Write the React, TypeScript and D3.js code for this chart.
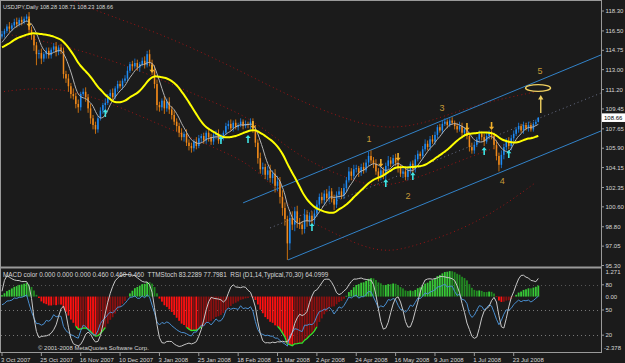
import React from "react";
import * as d3 from "d3";

const W = 625;
const H = 363;
const BG = "#1b1b1b";

// Closes before the first visible bar (Sep 2007), used only to warm up indicators
const preCloses = [116.2, 115.6, 114.9, 115.8, 116.3, 116.0, 115.4, 114.8, 115.6, 116.1,
  115.8, 115.2, 114.6, 113.9, 114.2, 113.6, 114.0, 114.5, 115.3, 115.8,
  116.1, 115.7, 115.3, 114.9, 115.2, 115.0, 114.6, 114.8, 115.2, 115.0, 115.6, 116.0];

// Daily closes, 3 Oct 2007 .. 6 Aug 2008
const closes = [
  116.2, 116.5, 116.9, 116.7, 117.0, 117.3, 117.1, 117.5, 117.3, 117.6,
  117.8, 116.6, 116.1, 115.2, 114.4, 114.5, 114.0, 114.4, 114.7, 114.3,
  114.8, 115.1, 114.6, 115.0, 114.7, 112.6, 112.2, 111.5, 110.8, 110.6,
  109.9, 109.6, 110.8, 111.0, 110.5, 109.5, 108.6, 108.0, 107.6, 108.6,
  109.3, 109.8, 110.0, 110.6, 110.9, 110.5, 111.3, 111.7, 111.5, 112.0,
  112.2, 112.9, 113.5, 113.3, 113.6, 113.2, 113.5, 113.8, 113.4, 114.4,
  113.6, 112.9, 111.7, 109.8, 109.6, 110.2, 109.5, 110.1, 109.4, 108.9,
  108.3, 107.9, 107.3, 106.9, 107.2, 106.4, 106.1, 105.9, 106.5, 106.1,
  106.8, 107.0, 106.6, 107.3, 106.9, 106.5, 107.1, 107.2, 106.6, 106.9,
  107.3, 107.9, 108.1, 107.7, 108.2, 107.8, 108.0, 108.3, 107.9, 108.1,
  108.0, 108.3, 107.6, 106.4, 105.0, 104.0, 104.2, 103.5, 103.9, 103.2,
  103.6, 102.5, 102.9, 101.5, 100.5, 99.5, 97.3, 99.6, 99.0, 100.2,
  99.2, 99.0, 98.6, 99.9, 99.3, 99.8, 99.4, 100.0, 100.8, 101.5,
  101.2, 101.8, 101.4, 102.0, 101.3, 100.8, 101.7, 102.0, 101.6, 102.3,
  103.0, 103.8, 103.4, 104.0, 104.1, 103.7, 104.2, 103.9, 104.6, 105.2,
  104.8, 104.5, 103.8, 103.3, 103.9, 103.5, 104.3, 104.8, 104.5, 105.0,
  104.6, 104.1, 103.6, 103.8, 103.3, 103.9, 104.5, 104.0, 104.9, 105.4,
  105.2, 105.8, 106.3, 106.0, 106.7, 106.5, 107.1, 107.8, 107.5, 108.1,
  108.3, 108.0, 108.4, 108.2, 107.9, 107.6, 107.9, 107.3, 107.6, 107.0,
  106.0, 105.7, 106.2, 106.7, 107.2, 106.9, 106.5, 107.0, 107.3, 107.0,
  106.2, 105.2, 104.4, 105.3, 106.0, 106.5, 106.1, 106.8, 107.2, 107.6,
  107.9, 107.5, 108.0, 107.7, 108.0, 107.6, 108.1, 108.28, 108.66];

// Wick length above the body / below the body (yen)
const upperWick = [
  0.3, 0.2, 0.2, 0.4, 0.2, 0.3, 0.4, 0.2, 0.3, 0.2, 0.2, 0.4, 0.3, 0.2, 0.3, 0.3, 0.4, 0.2, 0.3, 0.3,
  0.2, 0.3, 0.4, 0.2, 0.3, 0.3, 0.3, 0.4, 0.3, 0.5, 0.3, 0.4, 0.2, 0.3, 0.4, 0.3, 0.4, 0.3, 0.3, 0.2,
  0.3, 0.2, 0.4, 0.2, 0.3, 0.4, 0.2, 0.3, 0.3, 0.2, 0.3, 0.4, 0.2, 0.3, 0.4, 0.3, 0.2, 0.3, 0.4, 0.3,
  0.4, 0.3, 0.5, 0.4, 0.3, 0.2, 0.4, 0.3, 0.4, 0.3, 0.4, 0.3, 0.3, 0.4, 0.2, 0.4, 0.3, 0.3, 0.2, 0.4,
  0.3, 0.2, 0.3, 0.2, 0.4, 0.3, 0.2, 0.3, 0.4, 0.3, 0.2, 0.3, 0.3, 0.4, 0.2, 0.3, 0.2, 0.3, 0.2, 0.3,
  0.2, 0.3, 0.3, 0.4, 0.3, 0.5, 0.4, 0.3, 0.4, 0.5, 0.3, 0.4, 0.5, 0.4, 0.6, 0.5, 0.3, 0.5, 0.6, 0.4,
  0.5, 0.4, 0.3, 0.5, 0.4, 0.3, 0.4, 0.3, 0.4, 0.3, 0.4, 0.3, 0.4, 0.5, 0.3, 0.4, 0.3, 0.4, 0.3, 0.4,
  0.3, 0.4, 0.3, 0.4, 0.3, 0.2, 0.3, 0.4, 0.3, 0.4, 0.5, 0.3, 0.4, 0.3, 0.4, 0.3, 0.3, 0.4, 0.3, 0.3,
  0.4, 0.3, 0.3, 0.4, 0.3, 0.4, 0.2, 0.3, 0.4, 0.3, 0.2, 0.3, 0.4, 0.3, 0.3, 0.4, 0.3, 0.2, 0.3, 0.3,
  0.3, 0.2, 0.2, 0.3, 0.2, 0.3, 0.4, 0.3, 0.2, 0.3, 0.3, 0.4, 0.3, 0.2, 0.3, 0.2, 0.3, 0.3, 0.2, 0.2,
  0.3, 0.4, 0.3, 0.4, 0.3, 0.3, 0.4, 0.3, 0.3, 0.2, 0.3, 0.2, 0.3, 0.2, 0.3, 0.2, 0.2, 0.2, 0.05];
const lowerWick = [
  0.2, 0.3, 0.2, 0.3, 0.2, 0.2, 0.3, 0.2, 0.3, 0.2, 0.3, 0.3, 0.4, 0.5, 1.0, 0.4, 0.5, 0.3, 0.4, 0.3,
  0.3, 0.2, 0.4, 0.3, 0.3, 0.4, 0.4, 0.5, 0.4, 0.3, 0.4, 0.5, 0.3, 0.2, 0.4, 0.4, 0.5, 0.4, 0.4, 0.3,
  0.2, 0.3, 0.4, 0.2, 0.3, 0.3, 0.2, 0.3, 0.2, 0.3, 0.2, 0.3, 0.2, 0.4, 0.2, 0.3, 0.4, 0.2, 0.3, 0.2,
  0.3, 0.4, 0.4, 0.5, 0.4, 0.3, 0.5, 0.3, 0.4, 0.4, 0.3, 0.5, 0.4, 0.3, 0.4, 0.3, 0.4, 0.4, 0.3, 0.3,
  0.2, 0.4, 0.3, 0.3, 0.4, 0.3, 0.3, 0.4, 0.3, 0.1, 0.3, 0.2, 0.3, 0.2, 0.3, 0.2, 0.3, 0.2, 0.3, 0.2,
  0.3, 0.4, 0.3, 0.4, 0.5, 0.4, 0.5, 0.4, 0.5, 0.4, 0.5, 0.6, 0.5, 0.6, 0.7, 0.6, 1.5, 0.6, 0.5, 0.6,
  0.5, 0.4, 0.5, 0.4, 0.5, 0.4, 0.5, 0.4, 0.3, 0.4, 0.3, 0.4, 0.3, 0.4, 0.3, 0.5, 0.3, 0.4, 0.3, 0.3,
  0.3, 0.2, 0.4, 0.3, 0.3, 0.4, 0.3, 0.3, 0.2, 0.3, 0.3, 0.4, 0.3, 0.4, 0.3, 0.4, 0.4, 0.3, 0.3, 0.2,
  0.3, 0.4, 0.3, 0.4, 0.3, 0.3, 0.3, 0.4, 0.3, 0.2, 0.3, 0.3, 0.2, 0.3, 0.3, 0.2, 0.3, 0.3, 0.2, 0.3,
  0.2, 0.3, 0.2, 0.2, 0.3, 0.3, 0.2, 0.3, 0.3, 0.3, 0.4, 0.3, 0.3, 0.2, 0.3, 0.3, 0.4, 0.2, 0.3, 0.3,
  0.4, 0.4, 0.6, 0.3, 0.4, 0.3, 0.3, 0.4, 0.3, 0.2, 0.3, 0.2, 0.3, 0.2, 0.3, 0.2, 0.2, 0.2, 0.05];

const dateLabels = ["3 Oct 2007", "25 Oct 2007", "16 Nov 2007", "10 Dec 2007", "3 Jan 2008",
  "25 Jan 2008", "18 Feb 2008", "11 Mar 2008", "2 Apr 2008", "24 Apr 2008", "16 May 2008",
  "9 Jun 2008", "1 Jul 2008", "23 Jul 2008"];
const barsPerDateLabel = 16;

const priceTicks = [118.30, 116.50, 114.75, 113.00, 111.20, 109.45, 107.65, 105.90, 104.15,
  102.35, 100.60, 98.80, 97.05, 95.30];
const priceDomain = [95.30, 118.30];
const lastPrice = 108.66;
const titleText = "USDJPY,Daily 108.28 108.71 108.23 108.66";
const indicatorText = "MACD color 0.000 0.000 0.000 0.460 0.460 0.460  TTMStoch 83.2289 77.7981  RSI (D1,14,Typical,70,30) 64.0999";
const copyrightText = "\u00a9 2001-2008 MetaQuotes Software Corp.";

const macdDomain = [-2.378, 1.271];
const oscLevels = [80, 50, 20];

// Signal arrows: [bar, price]
const buyArrows = [[42, 109.08], [89, 106.65], [100, 106.74], [126, 98.79], [156, 102.76],
  [167, 103.39], [196, 105.65], [206, 105.38]];
const sellArrows = [[11, 117.22], [61, 113.06], [102, 108.0], [154, 104.57], [161, 105.11],
  [189, 107.82], [199, 107.91]];

// Wave count annotations: [label, bar, price]
const waveLabels: [string, number, number][] = [["1", 149.2, 106.74], ["2", 165, 101.59],
  ["3", 178.9, 109.54], ["4", 203.3, 102.94], ["5", 218.7, 112.88]];
const targetEllipse = [217.9, 111.34];
const targetArrow = [[219, 109.09], [219, 110.71]];

// Trend channel: [bar, price]
const channelUpper = [[98, 100.96], [243.5, 114.33]];
const channelLower = [[116.3, 95.81], [243.5, 107.46]];
const channelMid = [[109, 98.70], [243.5, 110.89]];

// Dotted band curves: [bar, price]
const bandUpper = [[23.6, 119.75], [37, 118.39], [64.2, 116.31], [93.9, 113.24], [119.1, 110.35],
  [137.4, 108.72], [149.6, 107.91], [159.8, 107.73], [169.9, 108.09], [178.9, 108.72],
  [195.1, 109.99], [216.7, 110.98]];
const bandMid = [[-0.8, 116.31], [22.4, 115.41], [53.3, 113.24], [80.5, 110.53], [102, 108.63],
  [119.1, 105.29], [139.4, 103.21], [152.8, 102.31], [166.7, 103.03], [180.1, 104.21],
  [200.4, 106.01], [216.7, 107.01]];
const bandLower = [[-0.8, 110.98], [19.5, 111.52], [39.8, 110.44], [64.2, 108.0], [85.8, 106.01],
  [102, 104.39], [113, 101.68], [121.1, 99.69], [132.5, 98.52], [146.3, 96.98], [156.9, 96.53],
  [166.7, 96.98], [187, 98.52], [203.3, 100.59], [216.7, 102.76]];

// ---------- derived series ----------
const P = preCloses.length;
const N = closes.length;
const opens = closes.map((c, i) => (i === 0 ? preCloses[P - 1] : closes[i - 1]));
const highs = closes.map((c, i) => Math.max(opens[i], c) + upperWick[i]);
const lows = closes.map((c, i) => Math.min(opens[i], c) - lowerWick[i]);
const allC = [...preCloses, ...closes];
const allH = [...preCloses, ...highs];
const allL = [...preCloses, ...lows];

function sma(a: number[], n: number) {
  return a.map((_, i) => {
    if (i < n - 1) return NaN;
    let s = 0;
    for (let j = i - n + 1; j <= i; j++) s += a[j];
    return s / n;
  });
}
function ema(a: number[], n: number) {
  const k = 2 / (n + 1);
  const out: number[] = [];
  let e = a[0];
  a.forEach((v, i) => { e = i === 0 ? v : e + k * (v - e); out.push(e); });
  return out;
}
const slowMA = sma(allC, 21).slice(P);
const fastMA = sma(allC, 6).slice(P);
const e12 = ema(allC, 12), e26 = ema(allC, 26);
const macdAll = allC.map((_, i) => e12[i] - e26[i]);
const macd = macdAll.slice(P);
const macdPrev = macdAll.slice(P - 1, P - 1 + N);

const rawK = allC.map((c, i) => {
  const n = 10;
  if (i < n - 1) return 50;
  const hh = d3.max(allH.slice(i - n + 1, i + 1)) as number;
  const ll = d3.min(allL.slice(i - n + 1, i + 1)) as number;
  return hh - ll > 0 ? (100 * (c - ll)) / (hh - ll) : 50;
});
const stoch = sma(sma(rawK, 3), 3).slice(P);

const typical = allC.map((c, i) => (allH[i] + allL[i] + c) / 3);
const rsiAll: number[] = (() => {
  const n = 14;
  const out: number[] = [];
  let ag = 0, al = 0;
  for (let i = 0; i < typical.length; i++) {
    if (i === 0) { out.push(50); continue; }
    const d = typical[i] - typical[i - 1];
    const g = Math.max(d, 0), l = Math.max(-d, 0);
    if (i <= n) { ag += g / n; al += l / n; }
    else { ag = (ag * (n - 1) + g) / n; al = (al * (n - 1) + l) / n; }
    out.push(al === 0 ? 100 : 100 - 100 / (1 + ag / al));
  }
  return out;
})();
const rsi = rsiAll.slice(P);

const FONT = "'Liberation Sans', Arial, sans-serif";

export default function App() {
  const x = d3.scaleLinear().domain([0, N - 1]).range([2, 538.3]);
  const y = d3.scaleLinear().domain(priceDomain).range([265.5, 11]);
  const yO = d3.scaleLinear().domain([0, 100]).range([352, 268]);
  const yM = d3.scaleLinear().domain(macdDomain).range([350, 268]);

  const ptLine = d3.line<number[]>().x((d) => x(d[0])).y((d) => y(d[1]));
  const curveLine = d3.line<number[]>().x((d) => x(d[0])).y((d) => y(d[1])).curve(d3.curveBasis);
  const maLine = (arr: number[]) =>
    d3.line<number>().defined((d) => !isNaN(d)).x((_, i) => x(i)).y((d) => y(d)).curve(d3.curveBasis)(arr) || "";
  const oscLine = (arr: number[]) =>
    d3.line<number>().defined((d) => !isNaN(d)).x((_, i) => x(i)).y((d) => yO(d))(arr) || "";
  const limeLine = d3.line<number>().defined((d) => d < -1.3).x((_, i) => x(i)).y((d) => yM(d))(macd) || "";

  const bodyW = 1.5;
  const axisColor = "#9a9a9a";
  const textColor = "#d6d6d6";

  return (
    <div style={{ position: "fixed", left: 0, top: 0, width: W, height: H, background: BG }}>
      <svg width={W} height={H} style={{ display: "block" }} fontFamily={FONT}>
        <defs>
          <clipPath id="cMain"><rect x={1} y={1} width={600} height={265} /></clipPath>
          <clipPath id="cInd"><rect x={1} y={269} width={600} height={83} /></clipPath>
        </defs>
        <rect x={0} y={0} width={W} height={H} fill={BG} />

        {/* main panel */}
        <g clipPath="url(#cMain)">
          {[bandUpper, bandMid, bandLower].map((b, k) => (
            <path key={k} d={curveLine(b) || ""} fill="none" stroke="#9c1414" strokeWidth={1} strokeDasharray="1,3" />
          ))}
          <path d={ptLine(channelUpper) || ""} stroke="#3282c8" strokeWidth={1} fill="none" />
          <path d={ptLine(channelLower) || ""} stroke="#3282c8" strokeWidth={1} fill="none" />
          <path d={ptLine(channelMid) || ""} stroke="#6a7088" strokeWidth={1} strokeDasharray="1,3" fill="none" />

          {closes.map((c, i) => {
            const o = opens[i];
            const up = c >= o;
            const col = up ? "#1e8cf5" : "#f08a1c";
            const wick = up ? "#1a6cc0" : "#c87010";
            const top = y(Math.max(o, c));
            const bot = y(Math.min(o, c));
            return (
              <g key={i}>
                <line x1={x(i)} x2={x(i)} y1={y(highs[i])} y2={y(lows[i])} stroke={wick} strokeWidth={1} />
                <rect x={x(i) - bodyW / 2} y={top} width={bodyW} height={Math.max(1, bot - top)} fill={col} />
              </g>
            );
          })}

          <path d={maLine(fastMA)} fill="none" stroke="#b4b4b4" strokeWidth={1} />
          <path d={maLine(slowMA)} fill="none" stroke="#ffff00" strokeWidth={2} />

          {buyArrows.map(([b, p], k) => {
            const cx = x(b), cy = y(p);
            return (
              <path key={k} fill="#3fe3e3"
                d={`M${cx},${cy - 4} L${cx + 2.6},${cy - 0.8} L${cx + 0.8},${cy - 0.8} L${cx + 0.8},${cy + 4} L${cx - 0.8},${cy + 4} L${cx - 0.8},${cy - 0.8} L${cx - 2.6},${cy - 0.8} Z`} />
            );
          })}
          {sellArrows.map(([b, p], k) => {
            const cx = x(b), cy = y(p);
            return (
              <path key={k} fill="#f2b02c"
                d={`M${cx},${cy + 4} L${cx + 2.6},${cy + 0.8} L${cx + 0.8},${cy + 0.8} L${cx + 0.8},${cy - 4} L${cx - 0.8},${cy - 4} L${cx - 0.8},${cy + 0.8} L${cx - 2.6},${cy + 0.8} Z`} />
            );
          })}

          {waveLabels.map(([t, b, p]) => (
            <text key={t} x={x(b)} y={y(p)} fill="#c49a38" fontSize={9} textAnchor="middle" dominantBaseline="central">{t}</text>
          ))}
          <ellipse cx={x(targetEllipse[0])} cy={y(targetEllipse[1])} rx={12.5} ry={3.4} fill="none" stroke="#f0d060" strokeWidth={1.4} />
          <line x1={x(targetArrow[0][0])} y1={y(targetArrow[0][1])} x2={x(targetArrow[1][0])} y2={y(targetArrow[1][1]) + 3}
            stroke="#f0d060" strokeWidth={1.4} />
          <path d={`M${x(targetArrow[1][0])},${y(targetArrow[1][1])} l2.6,4.5 l-5.2,0 Z`} fill="#f0d060" />
        </g>

        {/* indicator panel */}
        <g clipPath="url(#cInd)">
          {oscLevels.map((v) => (
            <line key={v} x1={1} x2={601} y1={Math.round(yO(v)) + 0.5} y2={Math.round(yO(v)) + 0.5}
              stroke={v === 80 ? "#555" : "#777"} strokeDasharray="1,3" />
          ))}
          {macd.map((v, i) => {
            const rising = v >= macdPrev[i];
            const col = v >= 0 ? (rising ? "#37c837" : "#228a22") : (rising ? "#8a1010" : "#ff1010");
            const y0 = yM(0), y1 = yM(v);
            return <rect key={i} x={x(i) - 0.9} width={1.8} y={Math.min(y0, y1)} height={Math.max(0.5, Math.abs(y1 - y0))} fill={col} />;
          })}
          <path d={limeLine} fill="none" stroke="#2ee62e" strokeWidth={1.3} />
          <path d={oscLine(rsi)} fill="none" stroke="#4a8fd0" strokeWidth={1} />
          <path d={oscLine(stoch)} fill="none" stroke="#c8c8c8" strokeWidth={1} />
        </g>

        {/* frame */}
        <rect x={0.5} y={0.5} width={601} height={352} fill="none" stroke={axisColor} strokeWidth={1} />
        <line x1={0} x2={601.5} y1={267.5} y2={267.5} stroke={axisColor} strokeWidth={2} />

        {/* right axis */}
        {priceTicks.map((p) => (
          <g key={p}>
            <line x1={601.5} x2={604} y1={y(p)} y2={y(p)} stroke={axisColor} />
            <text x={605.5} y={y(p) + 2.2} fill={textColor} fontSize={6}>{p.toFixed(2)}</text>
          </g>
        ))}
        <rect x={602} y={y(lastPrice) - 4.3} width={23} height={8.6} fill="#ffffff" />
        <text x={604} y={y(lastPrice) + 2.2} fill="#000" fontSize={6}>{lastPrice.toFixed(2)}</text>

        <text x={605.5} y={yM(macdDomain[1]) + 6} fill={textColor} fontSize={6}>{macdDomain[1].toFixed(3)}</text>
        <text x={605.5} y={yM(0) + 2.2} fill={textColor} fontSize={6}>0.00</text>
        <text x={604} y={yM(macdDomain[0]) + 0} fill={textColor} fontSize={6}>{macdDomain[0].toFixed(3)}</text>
        {oscLevels.map((v) => (
          <g key={v}>
            <line x1={601.5} x2={604} y1={yO(v)} y2={yO(v)} stroke={axisColor} />
            <text x={605.5} y={yO(v) + 2.2} fill={textColor} fontSize={6}>{v}</text>
          </g>
        ))}

        {/* date axis */}
        {dateLabels.map((t, k) => (
          <g key={t}>
            <line x1={x(k * barsPerDateLabel)} x2={x(k * barsPerDateLabel)} y1={353} y2={356} stroke={axisColor} />
            <text x={x(k * barsPerDateLabel) - 1} y={361.5} fill={textColor} fontSize={6}>{t}</text>
          </g>
        ))}

        {/* texts */}
        <text x={3} y={9} fill={textColor} fontSize={5.6} style={{ whiteSpace: "pre" }}>{titleText}</text>
        <text x={3} y={276.5} fill={textColor} fontSize={6.4} style={{ whiteSpace: "pre" }}>{indicatorText}</text>
        <text x={38} y={350} fill={textColor} fontSize={6}>{copyrightText}</text>
      </svg>
    </div>
  );
}
